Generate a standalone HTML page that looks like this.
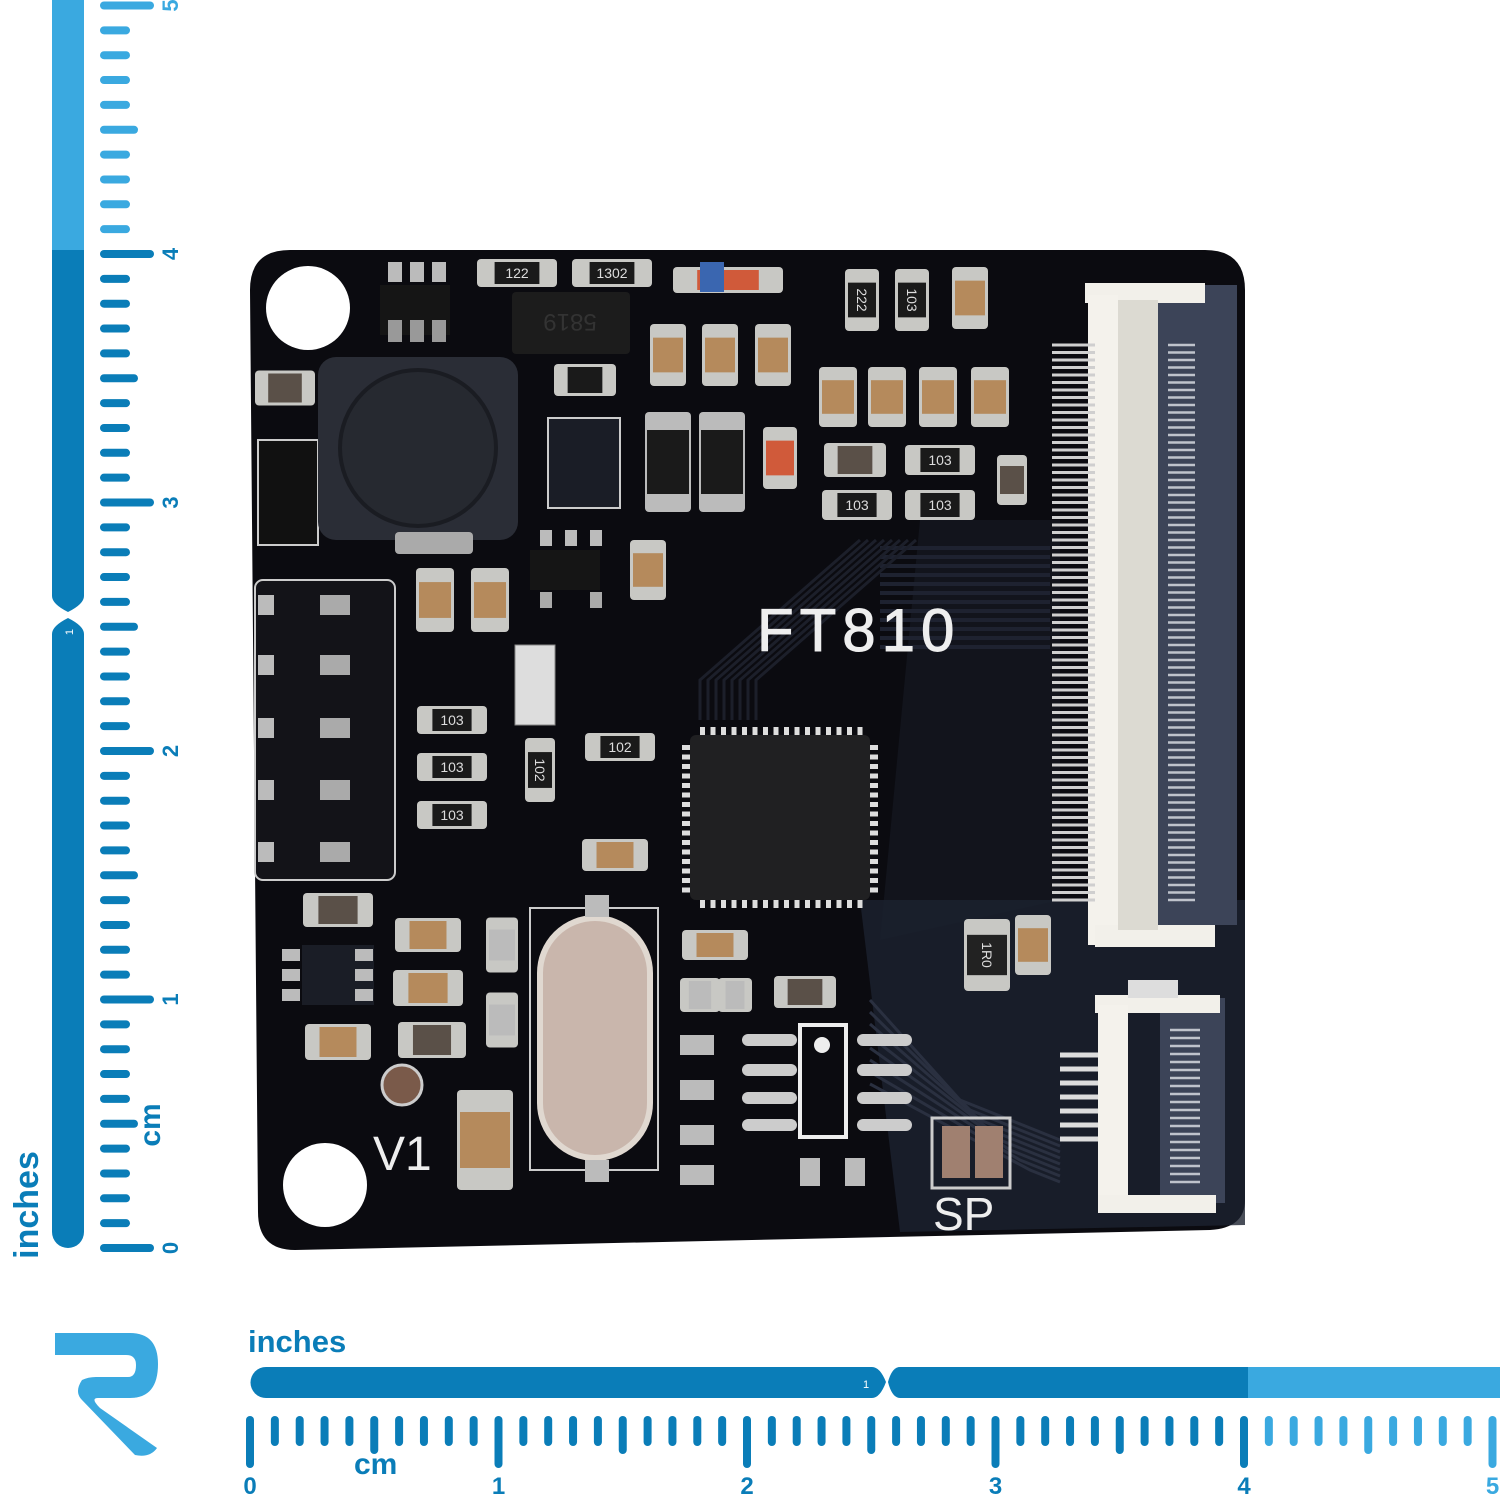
<!DOCTYPE html>
<html><head><meta charset="utf-8">
<style>
html,body{margin:0;padding:0;background:#fff;}
svg{display:block;}
text{font-family:"Liberation Sans",sans-serif;}
</style></head>
<body>
<svg id="s" width="1500" height="1500" viewBox="0 0 1500 1500" xmlns="http://www.w3.org/2000/svg">
<rect width="1500" height="1500" fill="#fff"/>
<rect x="52" y="-40" width="32" height="290" fill="#3aa9e0"/>
<path d="M52 250 H84 V596 Q84 604 68 612 Q52 604 52 596 Z" fill="#0a7db8"/>
<path d="M68 618 Q84 626 84 634 V1232 A16 16 0 0 1 52 1232 V634 Q52 626 68 618 Z" fill="#0a7db8"/>
<text x="0" y="0" transform="translate(73,632) rotate(-90)" font-size="11" fill="#fff" text-anchor="middle">1</text>
<text transform="translate(38,1205) rotate(-90)" font-size="34" font-weight="bold" fill="#0a7db8" text-anchor="middle">inches</text>
<text transform="translate(160,1125) rotate(-90)" font-size="30" font-weight="bold" fill="#0a7db8" text-anchor="middle">cm</text>
<path d="M266 1367 H872 Q880 1367 886 1382 Q880 1398 872 1398 H266 A15.5 15.5 0 0 1 266 1367 Z" fill="#0a7db8"/>
<path d="M900 1367 H1248 V1398 H900 Q892 1398 888 1382 Q892 1367 900 1367 Z" fill="#0a7db8"/>
<rect x="1248" y="1367" width="260" height="31" fill="#3aa9e0"/>
<text x="866" y="1388" font-size="11" fill="#fff" text-anchor="middle">1</text>
<text x="248" y="1352" font-size="31" font-weight="bold" fill="#0a7db8">inches</text>
<text x="354" y="1474" font-size="30" font-weight="bold" fill="#0a7db8">cm</text>
<g id="ticks"></g>
<path d="M55 1333 H130 Q158 1333 158 1364 Q158 1398 130 1398 H98 Q90 1398 100 1408 L157 1448 Q150 1458 135 1455 L82 1400 Q74 1392 82 1380 Q88 1377 96 1377 H128 Q136 1377 136 1365 Q136 1355 126 1355 H55 Z" fill="#3aa9e0"/>

<g id="pcb">
<path d="M290 250 H1205 Q1245 250 1245 290 V1200 Q1245 1228 1210 1230 L295 1250 Q258 1250 258 1212 L250 290 Q250 250 290 250 Z" fill="#0b0b10"/>
<path d="M920 520 L1060 520 L1060 900 L880 940 Z" fill="#151822" opacity="0.7"/>
<path d="M860 900 L1245 900 L1245 1225 L900 1232 Z" fill="#1c2230" opacity="0.8"/>
<g id="tr"></g>
<circle cx="308" cy="308" r="42" fill="#fff"/>
<circle cx="325" cy="1185" r="42" fill="#fff"/>
<text x="757" y="651" font-size="60" fill="#eee" stroke="#eee" stroke-width="1" letter-spacing="6">FT810</text>
<text x="373" y="1170" font-size="48" fill="#eee">V1</text>
<text x="933" y="1230" font-size="46" fill="#eee">SP</text>
</g>
<g id="comps"></g>
</svg>
<script>
var NS="http://www.w3.org/2000/svg";
function el(p,t,a){var e=document.createElementNS(NS,t);for(var k in a)e.setAttribute(k,a[k]);p.appendChild(e);return e;}
var T=document.getElementById('ticks');
for(var i=0;i<=50;i++){var y=1248-i*24.85;var c=y<252?"#3aa9e0":"#0a7db8";var L=i%10==0?46:(i%5==0?30:22);
 el(T,'line',{x1:104,y1:y,x2:104+L,y2:y,stroke:c,'stroke-width':8,'stroke-linecap':'round'});
 if(i%10==0){var t=el(T,'text',{transform:'translate('+(178)+','+(y)+') rotate(-90)','font-size':22,'font-weight':'bold',fill:c,'text-anchor':'middle'});t.textContent=i/10;}}
for(var i=0;i<=50;i++){var x=250+i*24.85;var c=x>1246?"#3aa9e0":"#0a7db8";var L=i%10==0?44:(i%5==0?30:22);
 el(T,'line',{x1:x,y1:1420,x2:x,y2:1420+L,stroke:c,'stroke-width':8,'stroke-linecap':'round'});
 if(i%10==0){var t=el(T,'text',{x:x,y:1494,'font-size':24,'font-weight':'bold',fill:c,'text-anchor':'middle'});t.textContent=i/10;}}
var TR=document.getElementById('tr');
for(var i=0;i<12;i++){el(TR,'line',{x1:880,y1:548+i*9,x2:1050,y2:548+i*9,stroke:'#1e2230','stroke-width':4});}
for(var i=0;i<8;i++){el(TR,'path',{d:'M'+(700+i*8)+' 720 L'+(700+i*8)+' 680 L'+(860+i*8)+' 540',fill:'none',stroke:'#1c1f2a','stroke-width':3});}
for(var i=0;i<8;i++){el(TR,'path',{d:'M870 '+(1000+i*12)+' L'+(960+i*10)+' '+(1100+i*10)+' L1060 '+(1140+i*6),fill:'none',stroke:'#2a3040','stroke-width':3});}
var C=document.getElementById('comps');
function cap(x,y,w,h,body,lbl,rot){
 var g=el(C,'g',{});
 el(g,'rect',{x:x-w/2,y:y-h/2,width:w,height:h,rx:4,fill:'#c8c8c4'});
 if(h>w){el(g,'rect',{x:x-w/2+3,y:y-h/2+h*0.22,width:w-6,height:h*0.56,fill:body});}
 else{el(g,'rect',{x:x-w/2+w*0.22,y:y-h/2+3,width:w*0.56,height:h-6,fill:body});}
 if(lbl){var t=el(g,'text',{x:x,y:y+5,'font-size':14,fill:'#ddd','text-anchor':'middle','font-family':'Liberation Mono,monospace'});t.textContent=lbl;
  if(rot)t.setAttribute('transform','rotate(90 '+x+' '+y+')');}
}
var tan='#b58a5c',blk='#1a1a1a',gry='#5a5048';
[[668,355],[720,355],[773,355],[970,298]].forEach(p=>cap(p[0],p[1],36,62,tan));
[[838,397],[887,397],[938,397],[990,397]].forEach(p=>cap(p[0],p[1],38,60,tan));
[[435,600],[490,600]].forEach(p=>cap(p[0],p[1],38,64,tan));
cap(648,570,36,60,tan);cap(1012,480,30,50,gry);
cap(285,388,60,35,gry);cap(585,380,62,32,blk);cap(855,460,62,34,gry);cap(615,855,66,32,tan);
cap(338,910,70,34,gry);cap(428,935,66,34,tan);cap(428,988,70,36,tan);cap(432,1040,68,36,gry);cap(338,1042,66,36,tan);
cap(805,992,62,32,gry);cap(715,945,66,30,tan);cap(1033,945,36,60,tan);cap(485,1140,56,100,tan);
cap(502,945,32,55,'#bbb');cap(502,1020,32,55,'#bbb');cap(540,770,30,64,blk,'102',true);
cap(987,955,46,72,'#222','1R0',true);
[[452,720],[452,767],[452,815]].forEach(p=>cap(p[0],p[1],70,28,blk,'103'));
cap(620,747,70,28,blk,'102');cap(857,505,70,30,blk,'103');cap(940,460,70,30,blk,'103');cap(940,505,70,30,blk,'103');
cap(517,273,80,28,blk,'122');cap(612,273,80,28,blk,'1302');
cap(862,300,34,62,blk,'222',true);cap(912,300,34,62,blk,'103',true);
cap(700,995,40,34,'#bbb');cap(735,995,34,34,'#bbb');
cap(728,280,110,26,'#d05a3a');el(C,'rect',{x:700,y:262,width:24,height:30,fill:'#3a66b0'});
cap(780,458,34,62,'#d05a3a');
el(C,'rect',{x:258,y:440,width:60,height:105,fill:'#111',stroke:'#ccc','stroke-width':2});
el(C,'rect',{x:380,y:285,width:70,height:50,fill:'#151515'});
[388,410,432].forEach(x=>{el(C,'rect',{x:x,y:262,width:14,height:20,fill:'#bbb'});el(C,'rect',{x:x,y:320,width:14,height:22,fill:'#999'});});
el(C,'rect',{x:512,y:292,width:118,height:62,rx:4,fill:'#1c1c1c'});
var t=el(C,'text',{x:570,y:330,'font-size':24,fill:'#333','text-anchor':'middle',transform:'rotate(180 570 322)'});t.textContent='5819';
el(C,'rect',{x:318,y:357,width:200,height:183,rx:18,fill:'#2a2d36'});
el(C,'circle',{cx:418,cy:448,r:78,fill:'#262930',stroke:'#1a1c22','stroke-width':4});
el(C,'rect',{x:395,y:532,width:78,height:22,rx:4,fill:'#aaa'});
el(C,'rect',{x:548,y:418,width:72,height:90,fill:'#1a1d26',stroke:'#ccc','stroke-width':2});
[[668,462],[722,462]].forEach(p=>{el(C,'rect',{x:p[0]-23,y:p[1]-50,width:46,height:100,rx:4,fill:'#bbb'});el(C,'rect',{x:p[0]-21,y:p[1]-32,width:42,height:64,fill:'#1a1a1a'});});
el(C,'rect',{x:530,y:550,width:70,height:40,fill:'#151515'});
[540,565,590].forEach(x=>{el(C,'rect',{x:x,y:530,width:12,height:16,fill:'#bbb'});});
[540,590].forEach(x=>{el(C,'rect',{x:x,y:592,width:12,height:16,fill:'#aaa'});});
el(C,'rect',{x:515,y:645,width:40,height:80,fill:'#ddd',stroke:'#888'});
el(C,'rect',{x:255,y:580,width:140,height:300,rx:8,fill:'#131318',stroke:'#ccc','stroke-width':2});
[605,665,728,790,852].forEach(y=>{el(C,'rect',{x:258,y:y-10,width:16,height:20,fill:'#bbb'});el(C,'rect',{x:320,y:y-10,width:30,height:20,fill:'#aaa'});});
el(C,'rect',{x:690,y:735,width:180,height:165,rx:6,fill:'#202022'});
for(var i=0;i<16;i++){var d=700+i*10.5;el(C,'rect',{x:d,y:727,width:5,height:8,fill:'#ddd'});el(C,'rect',{x:d,y:900,width:5,height:8,fill:'#ddd'});
 var yy=745+i*9.5;el(C,'rect',{x:682,y:yy,width:8,height:5,fill:'#ddd'});el(C,'rect',{x:870,y:yy,width:8,height:5,fill:'#ddd'});}
el(C,'rect',{x:530,y:908,width:128,height:262,fill:'none',stroke:'#ccc','stroke-width':2});
el(C,'rect',{x:540,y:918,width:110,height:240,rx:55,fill:'#c9b6ac',stroke:'#e0d8d0','stroke-width':6});
el(C,'rect',{x:585,y:895,width:24,height:22,fill:'#bbb'});el(C,'rect',{x:585,y:1160,width:24,height:22,fill:'#bbb'});
el(C,'rect',{x:800,y:1025,width:46,height:112,fill:'none',stroke:'#eee','stroke-width':4});
el(C,'circle',{cx:822,cy:1045,r:8,fill:'#eee'});
[1040,1070,1098,1125].forEach(y=>{el(C,'rect',{x:742,y:y-6,width:55,height:12,rx:6,fill:'#ccc'});el(C,'rect',{x:857,y:y-6,width:55,height:12,rx:6,fill:'#ccc'});});
[1045,1090,1135,1175].forEach(y=>el(C,'rect',{x:680,y:y-10,width:34,height:20,fill:'#bbb'}));
[800,845].forEach(x=>el(C,'rect',{x:x,y:1158,width:20,height:28,fill:'#bbb'}));
el(C,'rect',{x:302,y:945,width:72,height:60,fill:'#1a1d26'});
[290,363].forEach(x=>[955,975,995].forEach(y=>el(C,'rect',{x:x-8,y:y-6,width:18,height:12,fill:'#bbb'})));
el(C,'circle',{cx:402,cy:1085,r:20,fill:'#7a5a4a',stroke:'#ccc','stroke-width':3});
el(C,'rect',{x:932,y:1118,width:78,height:70,fill:'none',stroke:'#ccc','stroke-width':3});
el(C,'rect',{x:942,y:1126,width:28,height:52,fill:'#a08070'});el(C,'rect',{x:975,y:1126,width:28,height:52,fill:'#a08070'});
el(C,'rect',{x:1155,y:285,width:82,height:640,fill:'#3c4458'});
el(C,'rect',{x:1085,y:283,width:120,height:20,fill:'#f2f0ea'});
el(C,'rect',{x:1088,y:295,width:30,height:650,fill:'#f4f2ec'});
el(C,'rect',{x:1095,y:925,width:120,height:22,fill:'#f2f0ea'});
for(var y=345;y<905;y+=7.5){el(C,'line',{x1:1052,y1:y,x2:1095,y2:y,stroke:'#cfcfcf','stroke-width':3});el(C,'line',{x1:1168,y1:y,x2:1195,y2:y,stroke:'#bfc3cc','stroke-width':2.5});}
el(C,'rect',{x:1118,y:300,width:40,height:630,fill:'#dcdad2'});
el(C,'rect',{x:1160,y:998,width:65,height:205,fill:'#3c4458'});
el(C,'rect',{x:1095,y:995,width:125,height:18,fill:'#f2f0ea'});
el(C,'rect',{x:1098,y:1005,width:30,height:205,fill:'#f4f2ec'});
el(C,'rect',{x:1098,y:1195,width:118,height:18,fill:'#f2f0ea'});
el(C,'rect',{x:1128,y:980,width:50,height:18,fill:'#ddd'});
for(var y=1055;y<1150;y+=14){el(C,'line',{x1:1060,y1:y,x2:1098,y2:y,stroke:'#ddd','stroke-width':5});}
for(var y=1030;y<1190;y+=8){el(C,'line',{x1:1170,y1:y,x2:1200,y2:y,stroke:'#bfc3cc','stroke-width':2.5});}
</script>
</body></html>
